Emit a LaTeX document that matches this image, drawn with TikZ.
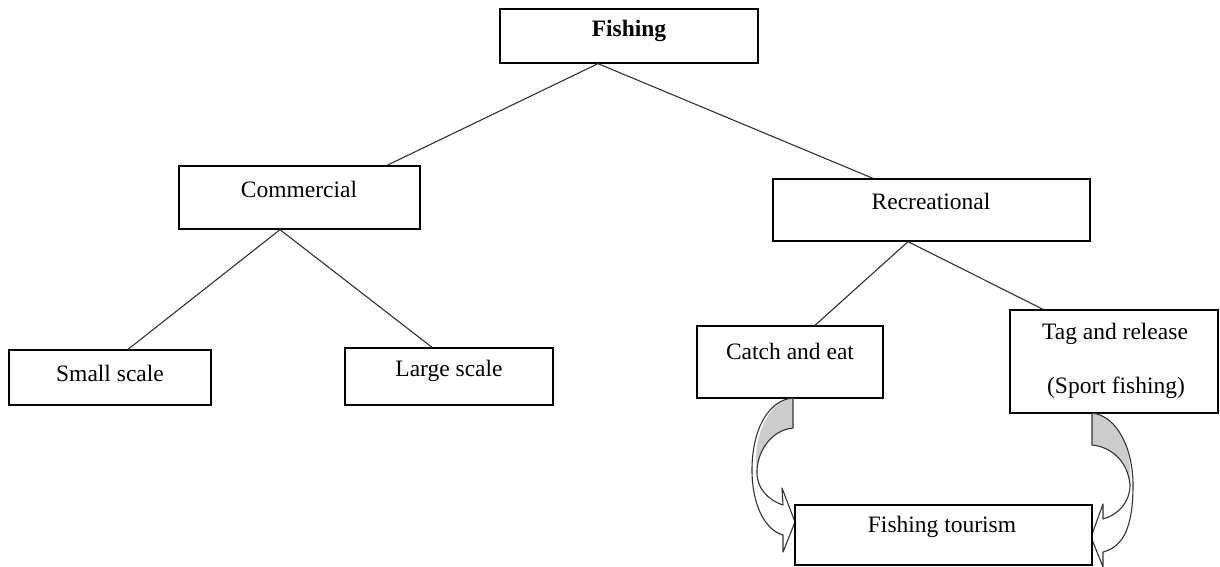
\documentclass[tikz,border=0pt]{standalone}
\usepackage{fontspec}
\setmainfont{Liberation Serif}
\usetikzlibrary{calc}
\tikzset{
  box/.style={draw=black, line width=1.3pt, fill=white, inner sep=0pt},
  lbl/.style={inner sep=0pt, font=\fontsize{23.5}{28}\selectfont},
  conn/.style={draw=black!80, line width=1.1pt},
  carrow/.style={draw=black!80, line width=1.1pt, line join=round},
}
\begin{document}
\begin{tikzpicture}[x=1pt,y=-1pt]
\useasboundingbox (0,0) rectangle (1220,567);
% boxes
\node[box, minimum width=258, minimum height=54] (fish) at (629,36) {};
\node[box, minimum width=241, minimum height=63] (comm) at (299.5,197.5) {};
\node[box, minimum width=317, minimum height=62] (rec) at (931.5,210) {};
\node[box, minimum width=202, minimum height=55] (small) at (110,377.5) {};
\node[box, minimum width=208, minimum height=57] (large) at (449,376.5) {};
\node[box, minimum width=186, minimum height=72] (catch) at (790,362) {};
\node[box, minimum width=208, minimum height=103] (tag) at (1114,361.5) {};
% texts
\node[lbl, font=\fontsize{23.5}{28}\selectfont\bfseries] (tfish) at (629,31) {Fishing};
\node[lbl] (tcomm) at (299,189) {Commercial};
\node[lbl] (trec) at (931,201) {Recreational};
\node[lbl] (tsmall) at (110,373) {Small scale};
\node[lbl] (tlarge) at (449,371) {Large scale};
\node[lbl] (tcatch) at (790,351) {Catch and eat};
\node[lbl] (ttag) at (1115,334) {Tag and release};
\node[lbl] (tsport) at (1116,388) {(Sport fishing)};
% connectors
\draw[conn] ($(fish.south)+(-31,0)$) -- ($(comm.north)+(87.5,0)$);
\draw[conn] ($(fish.south)+(-31,0)$) -- ($(rec.north)+(-58.5,0)$);
\draw[conn] ($(comm.south)+(-19.5,0)$) -- ($(small.north)+(18,0)$);
\draw[conn] ($(comm.south)+(-19.5,0)$) -- ($(large.north)+(-17,0)$);
\draw[conn] ($(rec.south)+(-23.5,0)$) -- ($(catch.north)+(25,0)$);
\draw[conn] ($(rec.south)+(-23.5,0)$) -- ($(tag.north)+(-71,0)$);
% left curved arrow
\fill[black!20] (793,398) -- (793,428) .. controls (772,430) and (758,450) .. (757,470)
  .. controls (752,440) and (768,400) .. (793,398) -- cycle;
\draw[carrow] (793,398) -- (793,428) .. controls (772,430) and (758,450) .. (757,470)
  .. controls (756,488) and (768,500) .. (783,505) -- (782,488) -- (795,522) -- (783,552) -- (783,535)
  .. controls (765,530) and (752,505) .. (752,470) .. controls (752,430) and (768,400) .. (793,398) -- cycle;
% right curved arrow
\fill[black!20] (1092,413) -- (1092,445) .. controls (1112,447) and (1128,462) .. (1130,485)
  .. controls (1133,450) and (1118,416) .. (1092,413) -- cycle;
\draw[carrow] (1092,413) -- (1092,445) .. controls (1112,447) and (1128,462) .. (1130,485)
  .. controls (1130,502) and (1118,515) .. (1103,519) -- (1103,504) -- (1091,537) -- (1103,567) -- (1103,552)
  .. controls (1122,547) and (1133,530) .. (1133,485) .. controls (1133,450) and (1118,416) .. (1092,413) -- cycle;
% bottom box
\node[box, minimum width=297, minimum height=60] (tour) at (943.5,535) {};
\node[lbl] (ttour) at (942,527) {Fishing tourism};
\end{tikzpicture}
\end{document}
